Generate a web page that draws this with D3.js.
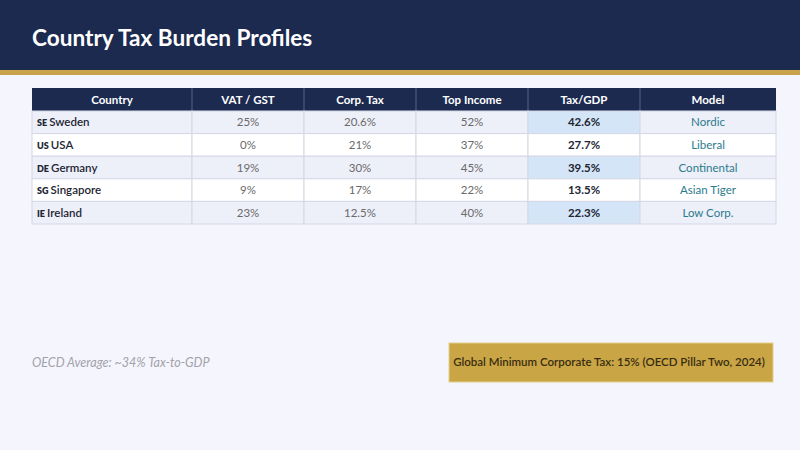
<!DOCTYPE html>
<html>
<head>
<meta charset="utf-8">
<script src="https://cdn.jsdelivr.net/npm/d3@7/dist/d3.min.js"></script>
<style>
  html, body { margin: 0; padding: 0; background: #f5f5fc; }
  svg { display: block; font-family: Lato, "Open Sans", sans-serif; }
</style>
</head>
<body>
<div id="chart"></div>
<script>
// --- data
const headers = ["Country", "VAT / GST", "Corp. Tax", "Top Income", "Tax/GDP", "Model"];
const codes = ["SE", "US", "DE", "SG", "IE"];
const countries = ["Sweden", "USA", "Germany", "Singapore", "Ireland"];
const vat = ["25%", "0%", "19%", "9%", "23%"];
const corpTax = ["20.6%", "21%", "30%", "17%", "12.5%"];
const topIncome = ["52%", "37%", "45%", "22%", "40%"];
const taxGdp = ["42.6%", "27.7%", "39.5%", "13.5%", "22.3%"];
const models = ["Nordic", "Liberal", "Continental", "Asian Tiger", "Low Corp."];
const colWidths = [160, 112, 112, 112, 112, 136];

const W = 800, H = 450;
const svg = d3.select("#chart").append("svg").attr("width", W).attr("height", H);

// background + banner
svg.append("rect").attr("width", W).attr("height", H).attr("fill", "#f5f5fd");
svg.append("rect").attr("width", W).attr("height", 70).attr("fill", "#1c2a4f");
svg.append("rect").attr("y", 70).attr("width", W).attr("height", 5).attr("fill", "#c9a34a");
svg.append("text")
  .attr("x", 32).attr("y", 46)
  .attr("fill", "#ffffff")
  .style("font-size", "22.6px").style("font-weight", 700)
  .text("Country Tax Burden Profiles");

// table geometry
const tableX = 32, headTop = 88, headH = 23;
const colStarts = [0, ...d3.cumsum(colWidths)];
const xCol = d3.scaleOrdinal().domain(d3.range(headers.length)).range(colStarts.slice(0, -1).map((d) => tableX + d));
const tableW = colStarts[colStarts.length - 1];
const y = d3.scaleBand().domain(d3.range(countries.length)).range([headTop + headH, 224]);

const rows = countries.map((c, i) => ({
  i, cells: [c, vat[i], corpTax[i], topIncome[i], taxGdp[i], models[i]]
}));

// header
const head = svg.append("g");
head.append("rect")
  .attr("x", tableX).attr("y", headTop).attr("width", tableW).attr("height", headH)
  .attr("fill", "#1c2a4f");
head.selectAll("text").data(headers).join("text")
  .attr("x", (d, j) => xCol(j) + colWidths[j] / 2)
  .attr("y", headTop + headH / 2 + 4)
  .attr("text-anchor", "middle")
  .attr("fill", "#ffffff")
  .style("font-size", "11.5px").style("font-weight", 700)
  .text((d) => d);

// body
const body = svg.append("g");
const rowG = body.selectAll("g.row").data(rows).join("g").attr("class", "row");

rowG.selectAll("rect").data((r) => r.cells.map((v, j) => ({ r: r.i, j, v }))).join("rect")
  .attr("x", (d) => xCol(d.j))
  .attr("y", (d) => y(d.r))
  .attr("width", (d) => colWidths[d.j])
  .attr("height", y.bandwidth())
  .attr("fill", (d) => {
    if (d.j === 4 && d.r % 2 === 0) return "#d5e5f8";
    return d.r % 2 === 0 ? "#edeff9" : "#ffffff";
  })
  .attr("stroke", "#d4d8e6").attr("stroke-width", 1);

rowG.selectAll("text").data((r) => r.cells.map((v, j) => ({ r: r.i, j, v }))).join("text")
  .attr("x", (d) => (d.j === 0 ? xCol(0) + 5 : xCol(d.j) + colWidths[d.j] / 2))
  .attr("y", (d) => y(d.r) + y.bandwidth() / 2 + 4)
  .attr("text-anchor", (d) => (d.j === 0 ? "start" : "middle"))
  .attr("fill", (d) => (d.j === 0 || d.j === 4 ? "#222633" : d.j === 5 ? "#2b7b8c" : "#6a6a6a"))
  .style("font-size", "11.5px")
  .style("font-weight", (d) => (d.j === 4 ? 700 : d.j === 0 ? 600 : 400))
  .each(function (d) {
    const t = d3.select(this);
    if (d.j === 0) {
      t.append("tspan").style("font-size", "9px").style("font-weight", 800).text(codes[d.r] + " ");
      t.append("tspan").text(d.v);
    } else {
      t.text(d.v);
    }
  });

// header column dividers
head.selectAll("line").data(colStarts.slice(1, -1)).join("line")
  .attr("x1", (d) => tableX + d).attr("x2", (d) => tableX + d)
  .attr("y1", headTop).attr("y2", headTop + headH)
  .attr("stroke", "#55608a").attr("stroke-width", 1);

// footer notes
svg.append("text")
  .attr("x", 32).attr("y", 367)
  .attr("fill", "#a2a2aa")
  .style("font-size", "12.5px").style("font-style", "italic")
  .text("OECD Average: ~34% Tax-to-GDP");

svg.append("rect")
  .attr("x", 449).attr("y", 343).attr("width", 324).attr("height", 39)
  .attr("fill", "#c9a545").attr("stroke", "#e4cf8c").attr("stroke-width", 1);
svg.append("text")
  .attr("x", 609).attr("y", 366)
  .attr("text-anchor", "middle")
  .attr("fill", "#3a2d12")
  .style("font-size", "11.5px").style("font-weight", 600)
  .text("Global Minimum Corporate Tax: 15% (OECD Pillar Two, 2024)");
</script>
</body>
</html>
